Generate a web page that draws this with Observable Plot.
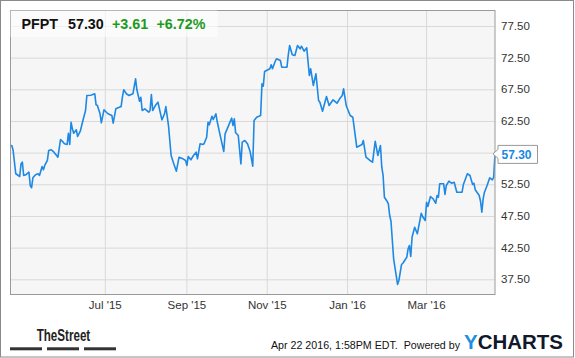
<!DOCTYPE html>
<html>
<head>
<meta charset="utf-8">
<script src="https://cdn.jsdelivr.net/npm/d3@7"></script>
<script src="https://cdn.jsdelivr.net/npm/@observablehq/plot@0.6"></script>
<style>
  html, body { margin: 0; padding: 0; background: #fff; }
  #chart svg { display: block; }
</style>
</head>
<body>
<div id="chart"></div>
<script>
const ticker = "PFPT";
const lastPrice = "57.30";
const change = "+3.61";
const changePct = "+6.72%";
const stampText = "Apr 22 2016, 1:58PM EDT.  Powered by";

const dates = [
  "2015-04-21","2015-04-22","2015-04-24","2015-04-26","2015-04-27","2015-04-28","2015-04-29","2015-04-30","2015-05-02","2015-05-04",
  "2015-05-05","2015-05-06","2015-05-07","2015-05-09","2015-05-11","2015-05-12","2015-05-14","2015-05-15","2015-05-16","2015-05-18",
  "2015-05-19","2015-05-21","2015-05-23","2015-05-25","2015-05-26","2015-05-28","2015-05-30","2015-05-31","2015-06-02","2015-06-03",
  "2015-06-04","2015-06-05","2015-06-06","2015-06-07","2015-06-09","2015-06-10","2015-06-12","2015-06-14","2015-06-16","2015-06-17",
  "2015-06-20","2015-06-21","2015-06-23","2015-06-24","2015-06-25","2015-06-27","2015-06-28","2015-06-30","2015-07-03","2015-07-06",
  "2015-07-07","2015-07-09","2015-07-13","2015-07-14","2015-07-15","2015-07-17","2015-07-19","2015-07-22","2015-07-24","2015-07-25",
  "2015-07-27","2015-07-28","2015-07-29","2015-07-31","2015-08-03","2015-08-04","2015-08-05","2015-08-06","2015-08-08","2015-08-10",
  "2015-08-13","2015-08-15","2015-08-16","2015-08-18","2015-08-20","2015-08-22","2015-08-24","2015-08-26","2015-08-29","2015-08-31",
  "2015-09-01","2015-09-02","2015-09-04","2015-09-06","2015-09-08","2015-09-09","2015-09-11","2015-09-13","2015-09-14","2015-09-16",
  "2015-09-17","2015-09-18","2015-09-20","2015-09-21","2015-09-23","2015-09-24","2015-09-26","2015-09-29","2015-09-30","2015-10-05",
  "2015-10-06","2015-10-07","2015-10-08","2015-10-10","2015-10-12","2015-10-13","2015-10-15","2015-10-17","2015-10-19","2015-10-21",
  "2015-10-22","2015-10-24","2015-10-27","2015-10-28","2015-10-29","2015-10-30","2015-11-03","2015-11-04","2015-11-05","2015-11-07",
  "2015-11-08","2015-11-11","2015-11-12","2015-11-16","2015-11-17","2015-11-18","2015-11-20","2015-11-22","2015-11-24","2015-11-26",
  "2015-11-27","2015-11-29","2015-12-01","2015-12-03","2015-12-04","2015-12-06","2015-12-08","2015-12-10","2015-12-11","2015-12-13",
  "2015-12-16","2015-12-18","2015-12-21","2015-12-24","2015-12-26","2015-12-28","2015-12-29","2015-12-31","2016-01-02","2016-01-03",
  "2016-01-05","2016-01-08","2016-01-12","2016-01-13","2016-01-15","2016-01-18","2016-01-20","2016-01-22","2016-01-24","2016-01-26",
  "2016-01-27","2016-01-28","2016-01-29","2016-01-31","2016-02-01","2016-02-02","2016-02-03","2016-02-05","2016-02-08","2016-02-09",
  "2016-02-11","2016-02-12","2016-02-15","2016-02-16","2016-02-17","2016-02-18","2016-02-19","2016-02-21","2016-02-23","2016-02-26",
  "2016-02-27","2016-02-29","2016-03-01","2016-03-02","2016-03-04","2016-03-06","2016-03-08","2016-03-09","2016-03-10","2016-03-11",
  "2016-03-14","2016-03-15","2016-03-16","2016-03-18","2016-03-20","2016-03-22","2016-03-24","2016-03-28","2016-03-29","2016-04-01",
  "2016-04-03","2016-04-05","2016-04-06","2016-04-07","2016-04-10","2016-04-11","2016-04-12","2016-04-13","2016-04-14","2016-04-16",
  "2016-04-18","2016-04-20","2016-04-21","2016-04-22"
];

const closes = [
  58.70,57.91,54.24,53.97,53.81,55.81,56.07,53.97,54.13,54.49,
  52.39,52.03,53.60,54.08,54.24,53.97,55.39,54.87,55.55,56.34,
  57.91,58.03,57.65,57.13,56.86,59.65,59.23,58.97,58.86,60.65,
  58.86,62.38,61.34,60.65,61.18,60.13,60.96,62.65,64.23,66.60,
  66.65,66.71,66.87,65.13,65.02,63.71,62.29,64.34,63.71,63.44,
  62.23,64.50,64.86,66.33,67.50,66.87,66.60,66.87,69.24,67.50,
  65.70,66.33,64.23,64.50,63.96,64.23,66.76,64.23,65.02,65.54,
  62.76,63.71,64.86,61.86,57.13,55.81,54.65,56.86,56.60,56.34,
  55.55,56.97,56.45,57.13,57.65,56.60,58.97,58.86,58.97,60.01,
  62.38,61.97,63.33,62.81,63.71,62.49,60.55,57.76,60.55,63.02,
  61.86,62.92,60.71,60.28,55.81,59.23,59.49,58.97,57.76,55.44,
  62.65,63.17,63.44,68.45,68.07,70.39,70.82,71.45,70.82,71.97,
  72.39,72.13,71.07,71.07,73.03,74.49,73.03,72.92,74.49,73.97,
  74.38,73.59,74.13,69.76,70.82,68.18,70.03,65.81,65.54,64.12,
  66.44,65.02,65.92,65.38,66.08,66.60,67.66,65.02,63.96,63.44,
  63.17,58.44,58.86,59.49,56.86,56.34,56.07,59.38,57.13,58.70,
  55.28,53.97,50.54,49.91,49.50,47.65,46.75,40.81,36.76,37.39,
  39.91,40.12,41.07,42.39,42.91,41.18,44.22,45.80,44.76,48.01,
  47.49,46.86,49.75,49.07,50.65,50.29,49.59,50.81,50.54,52.66,
  52.66,50.97,52.39,53.07,52.75,52.91,51.33,51.33,52.55,54.24,
  53.97,52.55,52.75,51.71,50.81,49.91,48.17,50.29,51.33,52.39,
  53.61,53.29,53.69,57.30
];

const xTickDates = ["2015-07-01","2015-09-01","2015-11-01","2016-01-01","2016-03-01"];
const xTickLabels = ["Jul '15","Sep '15","Nov '15","Jan '16","Mar '16"];
const yTicks = [37.5, 42.5, 47.5, 52.5, 57.5, 62.5, 67.5, 72.5, 77.5];
const yLabelTicks = [37.5, 42.5, 47.5, 52.5, 62.5, 67.5, 72.5, 77.5];
const xDomain = ["2015-04-20", "2016-04-22"];
const yDomain = [35.18, 80.02];

const data = dates.map((d, i) => ({date: new Date(d), close: closes[i]}));
const xTicks = xTickDates.map(d => new Date(d));
const labelOf = new Map(xTicks.map((d, i) => [+d, xTickLabels[i]]));

const lineColor = "#1e88e5";
const gridColor = "#d9d9d9";

const plot = Plot.plot({
  width: 575,
  height: 358,
  marginTop: 10,
  marginLeft: 10,
  marginRight: 80.5,
  marginBottom: 64,
  style: {fontFamily: "'Liberation Sans', Arial, sans-serif", fontSize: "11.5px", color: "#333", background: "#fff", overflow: "visible"},
  x: {type: "utc", domain: xDomain.map(d => new Date(d))},
  y: {domain: yDomain},
  marks: [
    Plot.frame({fill: "#f6f6f6", stroke: null}),
    Plot.gridY(yTicks, {stroke: gridColor, strokeOpacity: 1}),
    Plot.gridX(xTicks, {stroke: gridColor, strokeOpacity: 1}),
    Plot.lineY(data, {x: "date", y: "close", stroke: lineColor, strokeWidth: 1.6, strokeLinejoin: "round"}),
    Plot.frame({stroke: "#9a9a9a"}),
    Plot.axisY(yLabelTicks, {anchor: "right", tickSize: 0, tickPadding: 6, tickFormat: d => d.toFixed(2), label: null}),
    Plot.axisX(xTicks, {anchor: "bottom", tickSize: 0, tickPadding: 6, tickFormat: d => labelOf.get(+d), label: null})
  ]
});

document.getElementById("chart").appendChild(plot);

const svg = d3.select(plot);
const yS = plot.scale("y");
const font = "'Liberation Sans', Arial, sans-serif";
const deco = svg.append("g").attr("text-anchor", "start").attr("font-family", font);

// header box
deco.append("rect").attr("x", 10.5).attr("y", 10.5).attr("width", 207).attr("height", 26.5)
  .attr("fill", "#fff").attr("fill-opacity", 0.6);
const hdr = deco.append("g").attr("font-weight", "bold").attr("font-size", 14.3);
hdr.append("text").attr("x", 21.5).attr("y", 28.5).attr("fill", "#111").text(ticker);
hdr.append("text").attr("x", 68).attr("y", 28.5).attr("fill", "#111").text(lastPrice);
hdr.append("text").attr("x", 112).attr("y", 28.5).attr("fill", "#1d9a1d").text(change);
hdr.append("text").attr("x", 156.5).attr("y", 28.5).attr("fill", "#1d9a1d").text(changePct);

// last price tag
const yl = yS.apply(closes[closes.length - 1]);
deco.append("path")
  .attr("d", `M493,${yl} L498,${yl - 4.5} L498,${yl - 8.5} L537.5,${yl - 8.5} L537.5,${yl + 9.5} L498,${yl + 9.5} L498,${yl + 4.5} Z`)
  .attr("fill", "#fff").attr("stroke", "#999").attr("stroke-width", 1);
deco.append("text").attr("x", 501.5).attr("y", yl + 4.6).attr("font-weight", "bold")
  .attr("font-size", 12).attr("fill", "#1a87e6").text(lastPrice);

// footer: TheStreet logo
deco.append("text").attr("x", 36.7).attr("y", 341.3).attr("font-weight", "bold")
  .attr("font-size", 16).attr("fill", "#222").attr("textLength", 53.5).attr("lengthAdjust", "spacingAndGlyphs").text("TheStreet");
[[10, 42], [47, 79], [84, 116]].forEach(([a, b]) => {
  deco.append("rect").attr("x", a).attr("y", 347.3).attr("width", b - a).attr("height", 3).attr("fill", "#333");
});

// footer: timestamp + YCHARTS
deco.append("text").attr("x", 271).attr("y", 348.8).attr("font-size", 11)
  .attr("fill", "#111").attr("textLength", 189).attr("lengthAdjust", "spacingAndGlyphs")
  .style("white-space", "pre").text(stampText);
const yc = deco.append("text").attr("x", 464).attr("y", 348.7).attr("font-weight", "bold")
  .attr("font-size", 19.5).attr("textLength", 99).attr("lengthAdjust", "spacingAndGlyphs");
yc.append("tspan").attr("fill", "#1a8fe3").text("Y");
yc.append("tspan").attr("fill", "#10192b").text("CHARTS");

// outer border
deco.append("rect").attr("x", 0.5).attr("y", 0.5).attr("width", 573).attr("height", 356.5)
  .attr("fill", "none").attr("stroke", "#8a8a8a");
</script>
</body>
</html>
